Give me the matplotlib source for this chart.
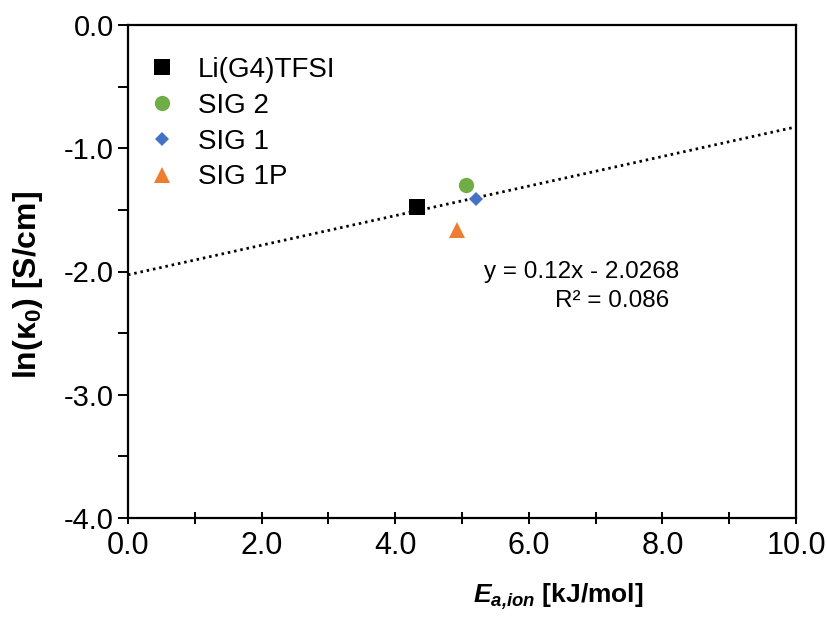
import matplotlib
matplotlib.use("Agg")
import matplotlib.pyplot as plt
from matplotlib import font_manager
from matplotlib.ticker import MultipleLocator, FormatStrFormatter
import numpy as np

# Data
samples = ["Li(G4)TFSI", "SIG 2", "SIG 1", "SIG 1P"]
ea_ion = [4.33, 5.06, 5.21, 4.93]          # kJ/mol
ln_k0 = [-1.48, -1.30, -1.41, -1.66]       # ln(S/cm)
markers = ["s", "o", "D", "^"]
colors = ["#000000", "#70AD47", "#4472C4", "#ED7D31"]
marker_sizes = [12, 11, 7.5, 11]

# Linear trendline
slope = 0.12
intercept = -2.0268
r_squared = 0.086

x_ticks = [0, 2, 4, 6, 8, 10]
y_ticks = [0, -1, -2, -3, -4]

names = {f.name for f in font_manager.fontManager.ttflist}
base = "Liberation Sans" if "Liberation Sans" in names else "DejaVu Sans"

plt.rcParams["font.family"] = [base, "DejaVu Sans"]
plt.rcParams["axes.unicode_minus"] = False
plt.rcParams["mathtext.fontset"] = "custom"
plt.rcParams["mathtext.rm"] = f"{base}:bold"
plt.rcParams["mathtext.bf"] = f"{base}:bold"
plt.rcParams["mathtext.it"] = f"{base}:bold:italic"
plt.rcParams["mathtext.bfit"] = f"{base}:bold:italic"

fig = plt.figure(figsize=(8.27, 6.22), dpi=100)
ax = fig.add_axes([128 / 827, 1 - 518 / 622, (796 - 128) / 827, (518 - 25) / 622])

# trendline
xf = np.array([0.0, 10.0])
ax.plot(xf, slope * xf + intercept, color="black", lw=2.0,
        linestyle=(0, (0.9, 1.4)), zorder=2)

for name, x, y, m, c, s in zip(samples, ea_ion, ln_k0, markers, colors, marker_sizes):
    ax.plot([x], [y], linestyle="none", marker=m, color=c, markersize=s,
            markeredgewidth=0, label=name, zorder=3)

ax.set_xlim(0, 10)
ax.set_ylim(-4, 0)
ax.set_xticks(x_ticks)
ax.set_yticks(y_ticks)
ax.xaxis.set_minor_locator(MultipleLocator(1))
ax.yaxis.set_minor_locator(MultipleLocator(0.5))
ax.xaxis.set_major_formatter(FormatStrFormatter("%.1f"))
ax.yaxis.set_major_formatter(FormatStrFormatter("%.1f"))

for sp in ax.spines.values():
    sp.set_linewidth(1.6)

ax.tick_params(axis="x", which="both", direction="inout", length=9, width=1.4,
               pad=5, labelsize=22)
ax.tick_params(axis="y", which="both", direction="out", length=7, width=1.4,
               pad=3, labelsize=21)

ax.set_xlabel(r"$\mathbfit{E}_{\mathbfit{a{,}ion}}$ [kJ/mol]", fontsize=19,
              fontweight="bold")
ax.xaxis.label.set_va("center")
ax.xaxis.set_label_coords((558 - 128) / 668, (518 - 597) / 493)
ax.set_ylabel(r"ln(κ$_\mathbf{0}$) [S/cm]", fontsize=23, fontweight="bold")
ax.yaxis.label.set_va("center")
ax.yaxis.set_label_coords((28 - 128) / 668, (518 - 285) / 493)

leg = ax.legend(loc="upper left", bbox_to_anchor=(0.0135, 0.958), frameon=False,
                fontsize=20, handlelength=1.0, handletextpad=0.8,
                labelspacing=0.355, borderaxespad=0)

ax.text((582 - 128) / 668, (518 - 272) / 493, f"y = {slope:g}x - {abs(intercept):.4f}",
        transform=ax.transAxes, ha="center", va="center", fontsize=17.5)
ax.text((612 - 128) / 668, (518 - 301) / 493, f"R² = {r_squared:.3f}",
        transform=ax.transAxes, ha="center", va="center", fontsize=17.5)

fig.savefig("out.png", dpi=100)
